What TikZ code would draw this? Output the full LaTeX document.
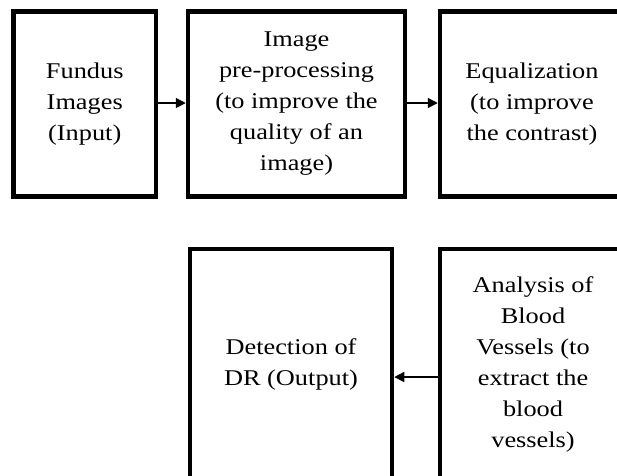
\documentclass[tikz,border=0pt]{standalone}
\usepackage{fontspec}
\setmainfont[FakeStretch=1.17]{Liberation Serif}
\usetikzlibrary{arrows.meta, positioning}

\begin{document}
\begin{tikzpicture}[x=1pt, y=-1pt,
    block/.style={rectangle, draw=black, line width=4.5pt, fill=white, align=center,
                  inner sep=0pt, minimum height=185pt, font=\fontsize{22.5}{31}\selectfont},
    flow/.style={-{Triangle[length=10pt, width=10pt]}, line width=1.5pt}
]
    \useasboundingbox (0,0) rectangle (617,475);

    % top row
    \node[block, minimum width=142.5pt] (fundus) at (84.75,104) {Fundus\\Images\\(Input)};
    \node[block, minimum width=217pt] (prepro) at (296.5,104) {Image\\pre-processing\\(to improve the\\quality of an\\image)};
    \node[block, minimum width=184pt] (equal) at (532,104) {Equalization\\(to improve\\the contrast)};
    \draw[flow] ([yshift=1pt]fundus.east) -- ([yshift=1pt]prepro.west);
    \draw[flow] ([yshift=1pt]prepro.east) -- ([yshift=1pt]equal.west);

    % bottom row
    \node[block, minimum width=202pt, minimum height=231pt] (detect) at (291,364.5) {Detection of\\DR (Output)};
    \node[block, minimum width=186pt, minimum height=231pt] (vessel) at (533,364.5) {Analysis of\\Blood\\Vessels (to\\extract the\\blood\\vessels)};
    \draw[flow] ([yshift=-12.5pt]vessel.west) -- ([yshift=-12.5pt]detect.east);
\end{tikzpicture}
\end{document}
